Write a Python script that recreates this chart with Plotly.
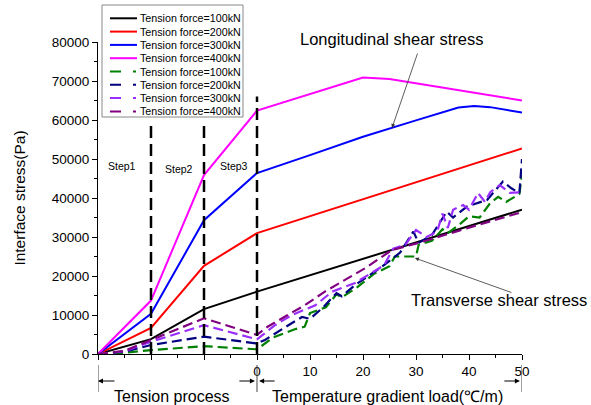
import plotly.graph_objects as go

# ---------------- data ----------------
# x: -30..0 = tension steps (Step1..Step3), 0..50 = temperature gradient (degC/m)
x_tick_vals = [-30, -20, -10, 0, 10, 20, 30, 40, 50]
x_tick_text = ["", "", "", "0", "10", "20", "30", "40", "50"]
y_tick_vals = [0, 10000, 20000, 30000, 40000, 50000, 60000, 70000, 80000]

series_names = ["Tension force=100kN", "Tension force=200kN",
                "Tension force=300kN", "Tension force=400kN"]

# Longitudinal shear stress (solid)
x_l100 = [-30, -20, -10, 0, 50]
y_l100 = [0, 3800, 11500, 16000, 37000]
x_l200 = [-30, -20, -10, 0, 50]
y_l200 = [0, 6700, 22600, 31000, 52700]
x_l300 = [-30, -20, -10, 0, 10, 20, 30, 38, 41, 44, 50]
y_l300 = [0, 10300, 34300, 46400, 51000, 55700, 59900, 63200, 63600, 63300, 61900]
x_l400 = [-30, -20, -10, 0, 20, 25, 50]
y_l400 = [0, 13700, 45900, 62400, 70900, 70500, 65000]

# Transverse shear stress (dashed)
x_t100 = [-30, -25, -20, -10, 0, 3, 7, 9, 10, 13, 15, 16, 19, 22, 25, 26, 30, 30.5,
          33, 35, 36, 38, 40, 42, 44, 45.5, 47, 49.5, 50]
y_t100 = [0, 300, 1000, 2000, 1200, 4200, 6300, 7000, 10500, 12000, 15300, 14500,
          17200, 20500, 22500, 25000, 25000, 28000, 29000, 32000, 31000, 33000,
          35300, 35000, 38700, 40300, 39000, 41000, 46000]
x_t200 = [-30, -25, -20, -10, 0, 1.5, 5, 8.5, 10, 12.5, 15, 16, 18.5, 23.5, 27, 29.5,
          30.5, 33, 35.8, 37, 39.6, 43.4, 46.4, 48, 49.5, 50]
y_t200 = [0, 600, 2300, 4450, 2700, 3600, 6600, 9500, 9000, 12000, 15600, 14800,
          17700, 22300, 26000, 31400, 28500, 30500, 36500, 35000, 37800, 39500,
          44200, 42500, 41200, 50000]
x_t300 = [-30, -25, -20, -10, 0, 3.4, 6.6, 11, 14.2, 18.5, 24, 25.7, 28, 30, 32, 34,
          35, 36, 37, 38.9, 40, 41.7, 43, 44, 45.8, 47.7, 50]
y_t300 = [0, 700, 3150, 7400, 3750, 7400, 10000, 12500, 16000, 18200, 22800, 27000,
          28000, 31800, 30000, 31400, 36000, 32300, 37000, 38200, 37000, 41300,
          39000, 41500, 43300, 41300, 41500]
x_t400 = [-30, -25, -20, -10, 0, 2, 5.8, 9, 12.8, 16.6, 20.4, 25.5, 30, 40, 50]
y_t400 = [0, 800, 3600, 9150, 4900, 7000, 10000, 12500, 16000, 19000, 22000, 26700,
          28300, 32400, 36400]

# vertical step separators
step_x = [-20, -10, 0]
step_top = [59000, 59000, 66000]
step_labels = ["Step1", "Step2", "Step3"]
step_label_x = [-25.5, -14.7, -4.3]
step_label_y = [48200, 47400, 48200]

solid_colors = ["#000000", "#FF0000", "#0000FF", "#FF00FF"]
dash_colors = ["#008000", "#000080", "#9A2EFE", "#800080"]

FONT = "Liberation Sans, Arial, sans-serif"

fig = go.Figure()

solid = [(x_l100, y_l100), (x_l200, y_l200), (x_l300, y_l300), (x_l400, y_l400)]
dashed = [(x_t100, y_t100), (x_t200, y_t200), (x_t300, y_t300), (x_t400, y_t400)]

for (xs, ys), c, n in zip(solid, solid_colors, series_names):
    fig.add_trace(go.Scatter(x=xs, y=ys, mode="lines", name=n, showlegend=False,
                             line=dict(color=c, width=2)))
for (xs, ys), c, n in zip(dashed, dash_colors, series_names):
    fig.add_trace(go.Scatter(x=xs, y=ys, mode="lines", name=n, showlegend=False,
                             line=dict(color=c, width=2.2, dash="10px,5px")))

for sx, st in zip(step_x, step_top):
    fig.add_trace(go.Scatter(x=[sx, sx], y=[0, st], mode="lines", showlegend=False,
                             hoverinfo="skip",
                             line=dict(color="black", width=2.5, dash="12px,6px")))

W, H = 591, 405
ML, MR, MT, MB = 98, 69, 42, 51
PW, PH = W - ML - MR, H - MT - MB


def px2paper_x(px):
    return (px - ML) / PW


def py2paper_y(py):
    return (H - MB - py) / PH


annotations = []
shapes = []

# step labels
for t, lx, ly in zip(step_labels, step_label_x, step_label_y):
    annotations.append(dict(x=lx, y=ly, xref="x", yref="y", text=t, showarrow=False,
                            xanchor="center", yanchor="middle",
                            font=dict(family=FONT, size=10.5, color="black")))

# call-out labels
annotations.append(dict(x=px2paper_x(391), y=py2paper_y(38.5), xref="paper", yref="paper",
                        xanchor="center", yanchor="middle",
                        text="Longitudinal shear stress", showarrow=False,
                        font=dict(family=FONT, size=16.5, color="black")))
annotations.append(dict(x=25.47, y=57950, xref="x", yref="y", text="", showarrow=True,
                        ax=26, ay=-76, arrowhead=2, arrowsize=1, arrowwidth=0.8,
                        arrowcolor="#333333"))
annotations.append(dict(x=px2paper_x(499), y=py2paper_y(300), xref="paper", yref="paper",
                        xanchor="center", yanchor="middle",
                        text="Transverse shear stress", showarrow=False,
                        font=dict(family=FONT, size=16.5, color="black")))
annotations.append(dict(x=29.8, y=24600, xref="x", yref="y", text="", showarrow=True,
                        ax=98, ay=35, arrowhead=2, arrowsize=1, arrowwidth=0.8,
                        arrowcolor="#333333"))

# bottom process labels and arrows
yb = py2paper_y(381)
for hx, axp in [(-30, 18), (-0.4, -17), (0.4, 17), (49.6, -17)]:
    annotations.append(dict(x=hx, y=yb, xref="x", yref="paper", text="", showarrow=True,
                            ax=axp, ay=0, arrowhead=2, arrowsize=1, arrowwidth=1,
                            arrowcolor="black"))
annotations.append(dict(x=-16, y=py2paper_y(396), xref="x", yref="paper",
                        xanchor="center", yanchor="middle",
                        text="Tension process", showarrow=False,
                        font=dict(family=FONT, size=16, color="black")))
annotations.append(dict(x=24.7, y=py2paper_y(396), xref="x", yref="paper",
                        xanchor="center", yanchor="middle",
                        text="Temperature gradient load(\u2103/m)", showarrow=False,
                        font=dict(family=FONT, size=16, color="black")))
for bx in [-30, 0, 50]:
    shapes.append(dict(type="line", xref="x", yref="paper", x0=bx, x1=bx,
                       y0=py2paper_y(365), y1=py2paper_y(392),
                       line=dict(color="#444444", width=1)))

# manual legend (compact, as in the original)
shapes.append(dict(type="rect", xref="paper", yref="paper",
                   x0=px2paper_x(102), x1=px2paper_x(243),
                   y0=py2paper_y(117), y1=py2paper_y(5),
                   fillcolor="white", line=dict(color="#888888", width=1), layer="above"))
legend_colors = solid_colors + dash_colors
legend_dash = ["solid"] * 4 + ["11px,12px,3px,40px"] * 4
legend_names = series_names + series_names
for i, (c, d, n) in enumerate(zip(legend_colors, legend_dash, legend_names)):
    py = 18.3 + 13.3 * i
    shapes.append(dict(type="line", xref="paper", yref="paper",
                       x0=px2paper_x(110), x1=px2paper_x(137),
                       y0=py2paper_y(py), y1=py2paper_y(py),
                       line=dict(color=c, width=2, dash=d), layer="above"))
    annotations.append(dict(x=px2paper_x(138), y=py2paper_y(py), xref="paper", yref="paper",
                            xanchor="left", yanchor="middle", text=n, showarrow=False,
                            font=dict(family=FONT, size=10.7, color="black")))

fig.update_layout(
    width=W, height=H,
    margin=dict(l=ML, r=MR, t=MT, b=MB, pad=0),
    paper_bgcolor="white", plot_bgcolor="white",
    showlegend=False,
    font=dict(family=FONT, color="black"),
    xaxis=dict(range=[-30, 50], tickvals=x_tick_vals, ticktext=x_tick_text,
               showgrid=False, zeroline=False, showline=True, linecolor="black",
               linewidth=1.2, ticks="outside", ticklen=5, tickwidth=1.2,
               tickcolor="black", tickfont=dict(size=13.5, family=FONT),
               minor=dict(dtick=5, tick0=0, ticks="outside", ticklen=3,
                          tickcolor="black", showgrid=False)),
    yaxis=dict(range=[0, 80000], tickvals=y_tick_vals, tickformat="d",
               showgrid=False, zeroline=False, showline=True, linecolor="black",
               linewidth=1.2, ticks="outside", ticklen=5, tickwidth=1.2,
               tickcolor="black", tickfont=dict(size=13.5, family=FONT),
               minor=dict(dtick=5000, tick0=0, ticks="outside", ticklen=3,
                          tickcolor="black", showgrid=False),
               title=dict(text="Interface stress(Pa)", standoff=22,
                          font=dict(size=15.5, family=FONT))),
    annotations=annotations,
    shapes=shapes,
)

fig.write_html("out.html")
